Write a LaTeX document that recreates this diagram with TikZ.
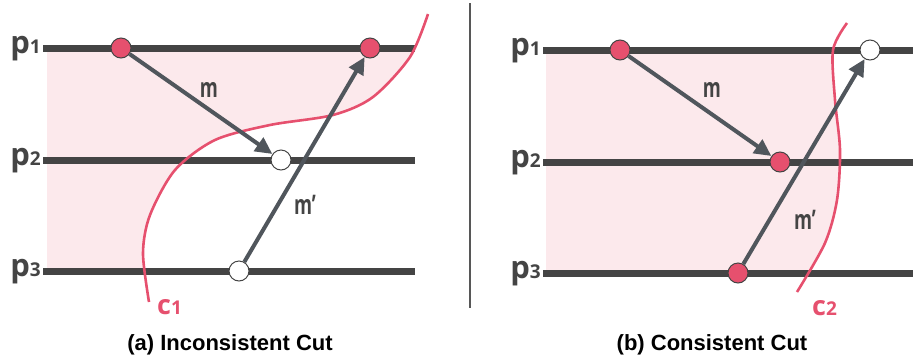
\documentclass[tikz,border=0pt]{standalone}
\usepackage{fontspec}
\setmainfont{Open Sans}
\newfontfamily\capfont{Liberation Sans}
\usetikzlibrary{arrows.meta}
\definecolor{cutred}{HTML}{E6506E}
\definecolor{cutfill}{HTML}{FCE9EC}
\definecolor{procgray}{HTML}{444444}
\definecolor{msggray}{HTML}{50565C}
\tikzset{
  procline/.style={draw=procgray,line width=7pt},
  cutline/.style={draw=cutred,line width=2.6pt},
  evt/.style={circle,draw=procgray,line width=1pt,fill=cutred,minimum size=20pt,inner sep=0pt},
  evtopen/.style={evt,fill=white},
  msg/.style={draw=msggray,line width=4pt,-{Triangle[length=17pt,width=16pt]}},
  plabel/.style={anchor=base east,inner sep=0pt,text=procgray,font=\bfseries\fontsize{31}{31}\selectfont},
  mlabel/.style={text=procgray,inner sep=0pt,font=\bfseries\fontsize{27}{27}\selectfont},
  clabel/.style={anchor=base west,inner sep=0pt,text=cutred,font=\bfseries\fontsize{27}{27}\selectfont},
  caption/.style={anchor=base,inner sep=0pt,font=\capfont\bfseries\fontsize{22}{22}\selectfont}
}
\newcommand{\withsub}[2]{#1{\fontsize{19}{19}\selectfont #2}}
\newcommand{\narrowm}[1]{\scalebox{0.68}[1]{#1}}

\begin{document}
\begin{tikzpicture}[x=1pt,y=-1pt]
\useasboundingbox (0,0) rectangle (913,360);
% (a) inconsistent cut
\begin{scope}
\clip (47,48) rectangle (415,271);
\fill[cutfill] (0,0) -- (428,0) -- plot[smooth] coordinates {(428,14) (410,57) (373,97) (333,115) (270,125) (215,140) (175,170) (150,215) (143,253) (149,302)} -- (0,302) -- cycle;
\end{scope}
\draw[procline] (43,48) -- (415,48);
\draw[procline] (43,160) -- (415,160);
\draw[procline] (43,271) -- (415,271);
\draw[cutline] plot[smooth] coordinates {(428,14) (410,57) (373,97) (333,115) (270,125) (215,140) (175,170) (150,215) (143,253) (149,302)};
\node[plabel] (pa1) at (41,53) {\withsub{p}{1}};
\node[plabel] (pa2) at (41,165) {\withsub{p}{2}};
\node[plabel] (pa3) at (41,276) {\withsub{p}{3}};
\node[evt] (a11) at (121,48) {};
\node[evt] (a12) at (370,48) {};
\node[evtopen] (a21) at (281,160) {};
\node[evtopen] (a31) at (239,271) {};
\draw[msg] (a11) -- (a21);
\draw[msg] (a31) -- (a12);
\node[mlabel] (ma) at (209,90) {\narrowm{m}};
\node[mlabel] (mpa) at (305,205) {\narrowm{m’}};
\node[clabel] (ca) at (157,314) {\withsub{c}{1}};
\node[caption] (capa) at (230,350) {(a) Inconsistent Cut};
% divider
\draw[draw=procgray!90,line width=2pt] (470,3) -- (470,308);
% (b) consistent cut
\begin{scope}
\clip (546,50) rectangle (913,273);
\fill[cutfill] (540,0) -- (847,0) -- plot[smooth] coordinates {(847,23) (833,50) (835,100) (840,150) (837,200) (825,243) (797,292)} -- (540,300) -- cycle;
\end{scope}
\draw[procline] (543,50) -- (913,50);
\draw[procline] (543,162) -- (913,162);
\draw[procline] (543,273) -- (913,273);
\draw[cutline] plot[smooth] coordinates {(847,23) (833,50) (835,100) (840,150) (837,200) (825,243) (797,292)};
\node[plabel] (pb1) at (541,55) {\withsub{p}{1}};
\node[plabel] (pb2) at (541,167) {\withsub{p}{2}};
\node[plabel] (pb3) at (541,278) {\withsub{p}{3}};
\node[evt] (b11) at (620,50) {};
\node[evtopen] (b12) at (870,50) {};
\node[evt] (b21) at (780,162) {};
\node[evt] (b31) at (738,273) {};
\draw[msg] (b11) -- (b21);
\draw[msg] (b31) -- (b12);
\node[mlabel] (mb) at (712,90) {\narrowm{m}};
\node[mlabel] (mpb) at (805,220) {\narrowm{m’}};
\node[clabel] (cb) at (812,315) {\withsub{c}{2}};
\node[caption] (capb) at (712,350) {(b) Consistent Cut};
\end{tikzpicture}
\end{document}
